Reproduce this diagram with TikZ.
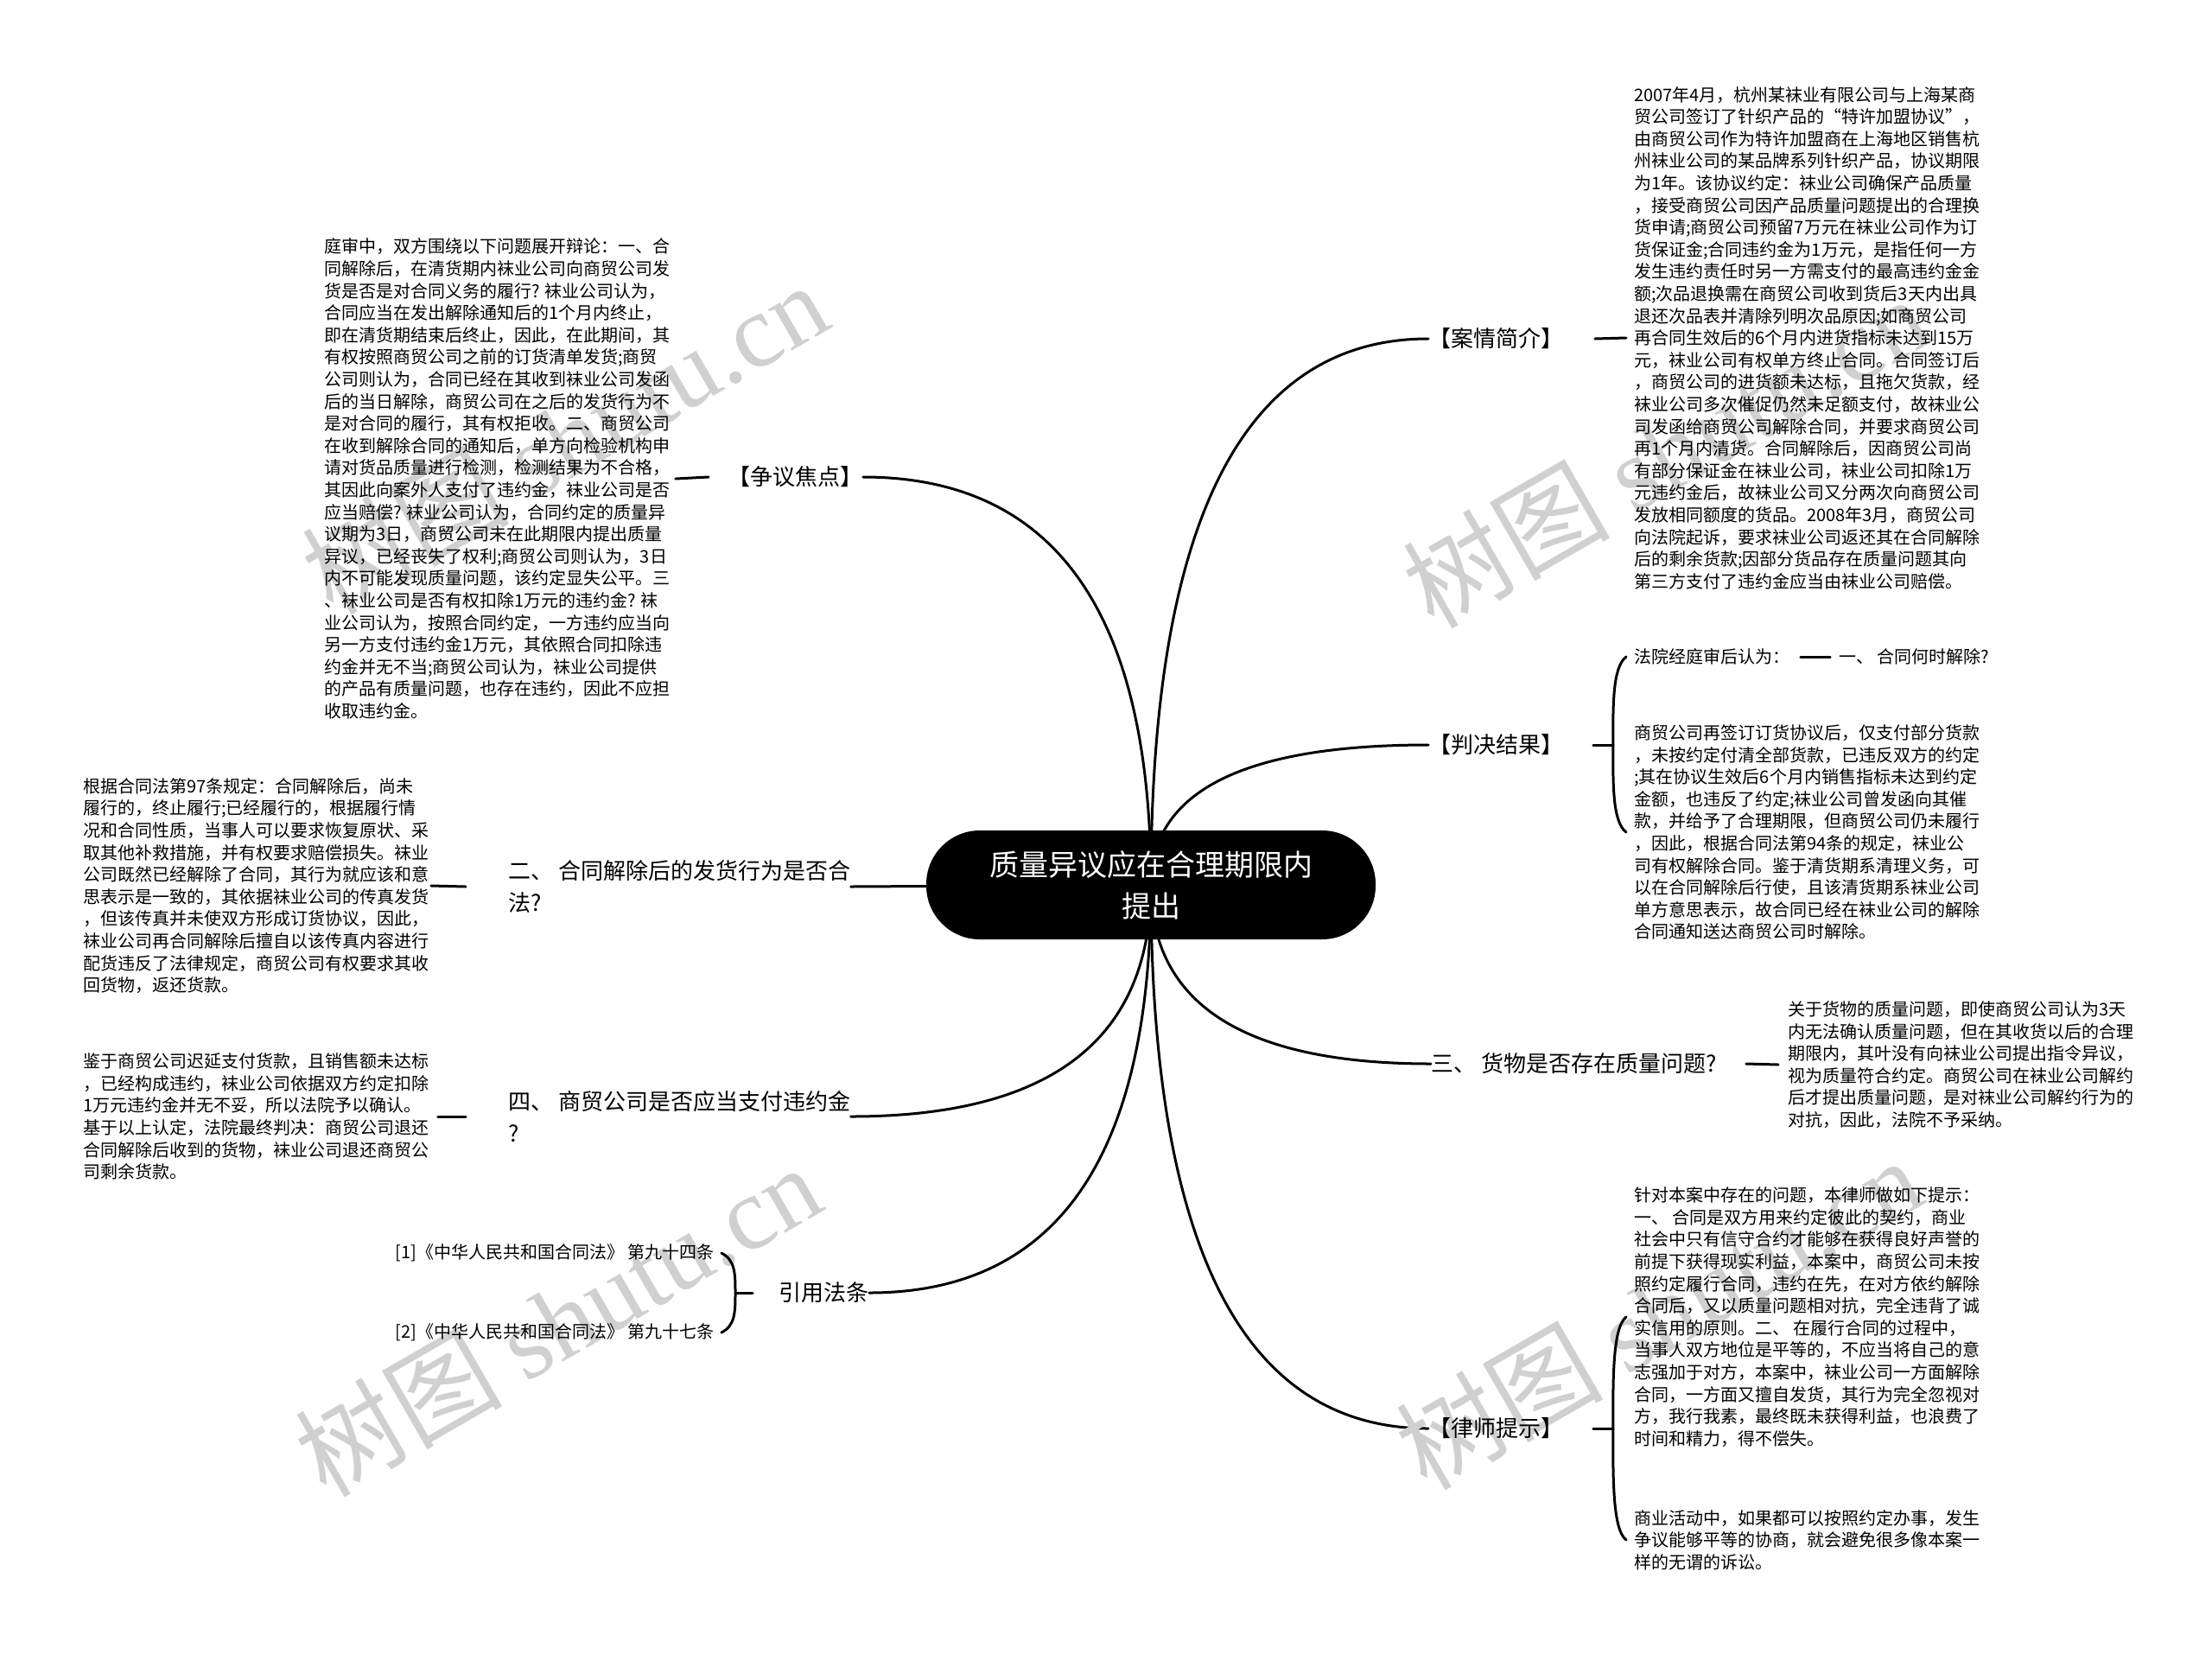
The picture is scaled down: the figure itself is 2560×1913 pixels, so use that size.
\documentclass[tikz,border=0pt]{standalone}
\usepackage{fontspec}
\setmainfont{Noto Sans CJK SC}
\newfontfamily\wmlatin{Liberation Serif}
\usetikzlibrary{calc}
\pgfdeclarelayer{bg}
\pgfsetlayers{bg,main}
\definecolor{wmgray}{RGB}{208,208,208}
\tikzset{
 conn/.style={line width=1.5pt, black, line cap=round},
 lab/.style={inner sep=0pt, font=\fontsize{13}{18.5}\selectfont, align=left},
 det/.style={inner sep=0pt, font=\fontsize{10}{12.8}\selectfont, align=left},
 hub/.style={fill=black, text=white, rounded corners=31pt, minimum width=260pt, minimum height=63pt, font=\fontsize{17}{24}\selectfont, align=center, inner sep=0pt},
 wm/.style={text=wmgray, rotate=30, font=\fontsize{60}{60}\selectfont},
}
\newcommand\hubcurve[1]{\draw[conn] (c.center) .. controls ($(c.center)!0.667!(c.center|-#1)$) and ($(#1)!0.667!(c.center|-#1)$) .. (#1);}
\begin{document}
\begin{tikzpicture}[x=0.5pt,y=-0.5pt]
\path[use as bounding box] (0,0) rectangle (2560,1913);
\begin{pgfonlayer}{bg}
\fill[white] (0,0) rectangle (2560,1913);
\end{pgfonlayer}

% watermarks
\node[wm] (w1) at (653,506) {树图 {\wmlatin shutu.cn}};
\node[wm] (w2) at (1927,522) {树图 {\wmlatin shutu.cn}};
\node[wm] (w3) at (645,1527) {树图 {\wmlatin shutu.cn}};
\node[wm] (w4) at (1919,1519) {树图 {\wmlatin shutu.cn}};

% hub
\node[hub] (c) at (1332,1024) {质量异议应在合理期限内\\提出};

% labels
\node[lab, anchor=west] (ra) at (1653,392) {【案情简介】};
\node[lab, anchor=west] (rb) at (1653,862) {【判决结果】};
\node[lab, anchor=west] (rc) at (1656,1231) {三、 货物是否存在质量问题?};
\node[lab, anchor=west] (rd) at (1653,1653) {【律师提示】};
\node[lab, anchor=west] (la) at (842,552) {【争议焦点】};
\node[lab, anchor=west] (lb) at (588,1026) {二、 合同解除后的发货行为是否合\\法?};
\node[lab, anchor=west] (lc) at (588,1292) {四、 商贸公司是否应当支付违约金\\?};
\node[lab, anchor=west] (ld) at (901,1496) {引用法条};

% details right
\node[det, anchor=west] (da) at (1891,391) {2007年4月，杭州某袜业有限公司与上海某商\\
贸公司签订了针织产品的“特许加盟协议”，\\
由商贸公司作为特许加盟商在上海地区销售杭\\
州袜业公司的某品牌系列针织产品，协议期限\\
为1年。该协议约定：袜业公司确保产品质量\\
，接受商贸公司因产品质量问题提出的合理换\\
货申请;商贸公司预留7万元在袜业公司作为订\\
货保证金;合同违约金为1万元，是指任何一方\\
发生违约责任时另一方需支付的最高违约金金\\
额;次品退换需在商贸公司收到货后3天内出具\\
退还次品表并清除列明次品原因;如商贸公司\\
再合同生效后的6个月内进货指标未达到15万\\
元，袜业公司有权单方终止合同。合同签订后\\
，商贸公司的进货额未达标，且拖欠货款，经\\
袜业公司多次催促仍然未足额支付，故袜业公\\
司发函给商贸公司解除合同，并要求商贸公司\\
再1个月内清货。合同解除后，因商贸公司尚\\
有部分保证金在袜业公司，袜业公司扣除1万\\
元违约金后，故袜业公司又分两次向商贸公司\\
发放相同额度的货品。2008年3月，商贸公司\\
向法院起诉，要求袜业公司返还其在合同解除\\
后的剩余货款;因部分货品存在质量问题其向\\
第三方支付了违约金应当由袜业公司赔偿。};

\node[det, anchor=west] (ja) at (1891,760) {法院经庭审后认为：};
\node[det, anchor=west] (jb) at (2128,760) {一、 合同何时解除?};
\node[det, anchor=west] (jc) at (1891,963) {商贸公司再签订订货协议后，仅支付部分货款\\
，未按约定付清全部货款，已违反双方的约定\\
;其在协议生效后6个月内销售指标未达到约定\\
金额，也违反了约定;袜业公司曾发函向其催\\
款，并给予了合理期限，但商贸公司仍未履行\\
，因此，根据合同法第94条的规定，袜业公\\
司有权解除合同。鉴于清货期系清理义务，可\\
以在合同解除后行使，且该清货期系袜业公司\\
单方意思表示，故合同已经在袜业公司的解除\\
合同通知送达商贸公司时解除。};

\node[det, anchor=west] (sa) at (2069,1232) {关于货物的质量问题，即使商贸公司认为3天\\
内无法确认质量问题，但在其收货以后的合理\\
期限内，其叶没有向袜业公司提出指令异议，\\
视为质量符合约定。商贸公司在袜业公司解约\\
后才提出质量问题，是对袜业公司解约行为的\\
对抗，因此，法院不予采纳。};

\node[det, anchor=west] (ta) at (1891,1524) {针对本案中存在的问题，本律师做如下提示：\\
一、 合同是双方用来约定彼此的契约，商业\\
社会中只有信守合约才能够在获得良好声誉的\\
前提下获得现实利益，本案中，商贸公司未按\\
照约定履行合同，违约在先，在对方依约解除\\
合同后，又以质量问题相对抗，完全违背了诚\\
实信用的原则。二、 在履行合同的过程中，\\
当事人双方地位是平等的，不应当将自己的意\\
志强加于对方，本案中，袜业公司一方面解除\\
合同，一方面又擅自发货，其行为完全忽视对\\
方，我行我素，最终既未获得利益，也浪费了\\
时间和精力，得不偿失。};
\node[det, anchor=west] (tb) at (1891,1782) {商业活动中，如果都可以按照约定办事，发生\\
争议能够平等的协商，就会避免很多像本案一\\
样的无谓的诉讼。};

% details left
\node[det, anchor=west] (za) at (375,554) {庭审中，双方围绕以下问题展开辩论：一、合\\
同解除后，在清货期内袜业公司向商贸公司发\\
货是否是对合同义务的履行? 袜业公司认为，\\
合同应当在发出解除通知后的1个月内终止，\\
即在清货期结束后终止，因此，在此期间，其\\
有权按照商贸公司之前的订货清单发货;商贸\\
公司则认为，合同已经在其收到袜业公司发函\\
后的当日解除，商贸公司在之后的发货行为不\\
是对合同的履行，其有权拒收。二、商贸公司\\
在收到解除合同的通知后，单方向检验机构申\\
请对货品质量进行检测，检测结果为不合格，\\
其因此向案外人支付了违约金，袜业公司是否\\
应当赔偿? 袜业公司认为，合同约定的质量异\\
议期为3日，商贸公司未在此期限内提出质量\\
异议，已经丧失了权利;商贸公司则认为，3日\\
内不可能发现质量问题，该约定显失公平。三\\
、袜业公司是否有权扣除1万元的违约金? 袜\\
业公司认为，按照合同约定，一方违约应当向\\
另一方支付违约金1万元，其依照合同扣除违\\
约金并无不当;商贸公司认为，袜业公司提供\\
的产品有质量问题，也存在违约，因此不应担\\
收取违约金。};

\node[det, anchor=west] (ea) at (96,1025) {根据合同法第97条规定：合同解除后，尚未\\
履行的，终止履行;已经履行的，根据履行情\\
况和合同性质，当事人可以要求恢复原状、采\\
取其他补救措施，并有权要求赔偿损失。袜业\\
公司既然已经解除了合同，其行为就应该和意\\
思表示是一致的，其依据袜业公司的传真发货\\
，但该传真并未使双方形成订货协议，因此，\\
袜业公司再合同解除后擅自以该传真内容进行\\
配货违反了法律规定，商贸公司有权要求其收\\
回货物，返还货款。};

\node[det, anchor=west] (fa) at (96,1292) {鉴于商贸公司迟延支付货款，且销售额未达标\\
，已经构成违约，袜业公司依据双方约定扣除\\
1万元违约金并无不妥，所以法院予以确认。\\
基于以上认定，法院最终判决：商贸公司退还\\
合同解除后收到的货物，袜业公司退还商贸公\\
司剩余货款。};

\node[det, anchor=west] (ya) at (457,1450) {[1]《中华人民共和国合同法》 第九十四条};
\node[det, anchor=west] (yb) at (457,1542) {[2]《中华人民共和国合同法》 第九十七条};

\begin{pgfonlayer}{bg}
\hubcurve{ra.west}
\hubcurve{rb.west}
\hubcurve{rc.west}
\hubcurve{rd.west}
\hubcurve{la.east}
\hubcurve{lc.east}
\hubcurve{ld.east}
\draw[conn] (c.center) -- (lb.east);
\end{pgfonlayer}

% short connectors
\draw[conn] ([xshift=18pt]ra.east) -- ([xshift=-4.5pt]da.west);
\draw[conn] ([xshift=17pt]rc.east) -- ([xshift=-5.5pt]sa.west);
\draw[conn] ([xshift=6pt]ja.east) -- ([xshift=-5pt]jb.west);
\draw[conn] ([xshift=3pt]za.east) -- ([xshift=-11pt]la.west);
\draw[conn] ([xshift=1pt]ea.east) -- ([xshift=-24.5pt]lb.west);
\draw[conn] ([xshift=5pt]fa.east|-lc.west) -- ([xshift=-24.5pt]lc.west);

% braces
\coordinate (bj) at ($(rb.east)+(57,0)$);
\draw[conn] ([xshift=17pt]rb.east) -- (bj);
\draw[conn] ([xshift=-4.5pt]ja.west) .. controls +(-16,12) and +(0,-45) .. (bj) .. controls +(0,45) and +(-16,-12) .. ([xshift=-4.5pt]jc.west);

\coordinate (bl) at ($(rd.east)+(57,0)$);
\draw[conn] ([xshift=17pt]rd.east) -- (bl);
\draw[conn] ([xshift=-4.5pt]ta.west) .. controls +(-16,12) and +(0,-55) .. (bl) .. controls +(0,55) and +(-16,-12) .. ([xshift=-4.5pt]tb.west);

\coordinate (by) at ($(ld.west)+(-50,0)$);
\draw[conn] ([xshift=4pt]ya.east) .. controls +(16,8) and +(0,-22) .. (by) .. controls +(0,22) and +(16,-8) .. ([xshift=4pt]yb.east);
\draw[conn] (by) -- ([xshift=-15pt]ld.west);
\end{tikzpicture}
\end{document}
